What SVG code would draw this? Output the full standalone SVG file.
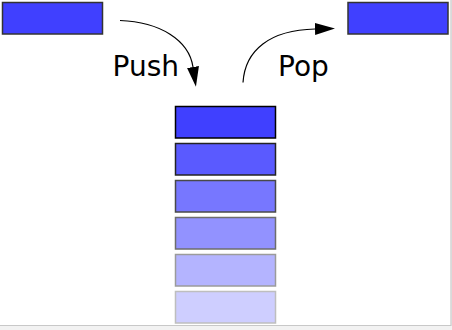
<svg xmlns="http://www.w3.org/2000/svg" width="452" height="330" viewBox="0 0 452 330">
<defs>
<style>
.box{fill:#4040ff;stroke:#333;stroke-width:1.5}
.sbox{fill:#4040ff;stroke:#000;stroke-width:1.5}
.lbl{font-family:"DejaVu Sans",sans-serif;font-size:28px;fill:#000}
.arr{fill:none;stroke:#000;stroke-width:1.2}
</style>
<marker id="ah" viewBox="0 0 20 12" refX="0" refY="6" markerWidth="20" markerHeight="12" markerUnits="userSpaceOnUse" orient="auto">
<path d="M0,0 L20,6 L0,12 Z" fill="#000"/>
</marker>
</defs>
<rect x="0" y="0" width="452" height="330" fill="#f2f2f2"/>
<rect x="0" y="0" width="451" height="325" fill="#fff"/>
<path d="M451,0 V325.5 H0" fill="none" stroke="#c8c8c8" stroke-width="1.2"/>
<g id="src"><rect class="box" x="2.5" y="2.5" width="100" height="31.5"/></g>
<g id="dst"><rect class="box" x="348" y="2.5" width="100" height="31.5"/></g>
<g id="stack">
<rect class="sbox" x="175.5" y="106.5" width="100" height="31.5"/>
<rect class="sbox" x="175.5" y="143.5" width="100" height="31.5" opacity="0.86"/>
<rect class="sbox" x="175.5" y="180.5" width="100" height="31.5" opacity="0.71"/>
<rect class="sbox" x="175.5" y="217.5" width="100" height="31.5" opacity="0.57"/>
<rect class="sbox" x="175.5" y="254.5" width="100" height="31.5" opacity="0.39"/>
<rect class="sbox" x="175.5" y="291.5" width="100" height="31.5" opacity="0.25"/>
</g>
<g id="connectors">
<path class="arr" d="M120,20.5 C160,22 189,40 193,67" marker-end="url(#ah)"/>
<path class="arr" d="M243,82.5 C245,50 270,30 315,29" marker-end="url(#ah)"/>
</g>
<text class="lbl" x="112.5" y="75.5">Push</text>
<text class="lbl" x="278" y="75.5">Pop</text>
</svg>
